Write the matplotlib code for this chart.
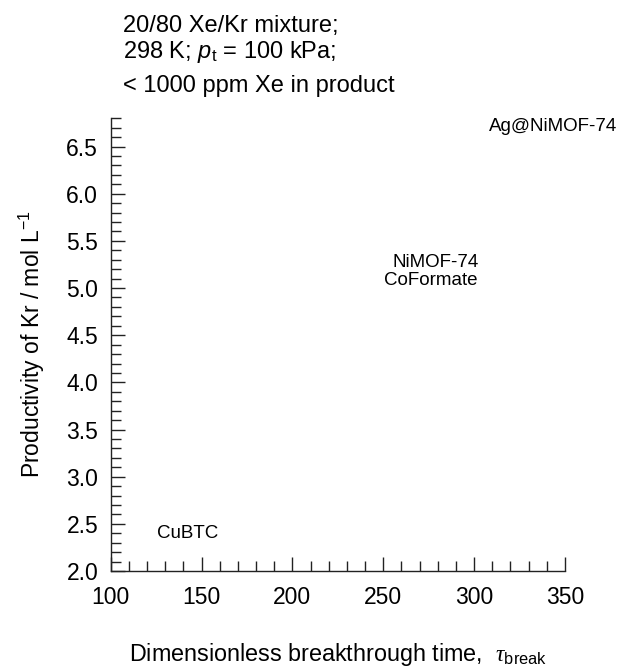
import matplotlib
matplotlib.use("Agg")
import matplotlib.pyplot as plt
from matplotlib.ticker import MultipleLocator

plt.rcParams['font.family'] = ['Liberation Sans', 'DejaVu Sans']
plt.rcParams['mathtext.fontset'] = 'custom'
plt.rcParams['mathtext.rm'] = 'Liberation Sans'
plt.rcParams['mathtext.it'] = 'Liberation Sans:italic'
plt.rcParams['mathtext.sf'] = 'Liberation Serif:italic'

# Data (label anchor positions)
materials = ["CuBTC", "NiMOF-74", "CoFormate", "Ag@NiMOF-74"]
tau_break = [125.2, 302.6, 301.9, 308.0]
productivity = [2.40, 5.27, 5.08, 6.71]
label_align = ["left", "right", "right", "left"]

x_ticks = [100, 150, 200, 250, 300, 350]
y_ticks = [2.0, 2.5, 3.0, 3.5, 4.0, 4.5, 5.0, 5.5, 6.0, 6.5]

fig = plt.figure(figsize=(6.28, 6.68), dpi=100)
ax = fig.add_axes([0.1763, 0.1452, 0.7234, 0.6777])

ax.set_xlim(100, 350)
ax.set_ylim(2.0, 6.8)
ax.set_xticks(x_ticks)
ax.set_yticks(y_ticks)
ax.set_yticklabels([f"{v:.1f}" for v in y_ticks])
ax.xaxis.set_minor_locator(MultipleLocator(10))
ax.yaxis.set_minor_locator(MultipleLocator(0.1))

for s in ["top", "right"]:
    ax.spines[s].set_visible(False)
for s in ["left", "bottom"]:
    ax.spines[s].set_linewidth(1.0)
    ax.spines[s].set_color("#222222")

ax.tick_params(which="major", direction="in", length=10, width=1.0, labelsize=16.5, color="#222222")
ax.tick_params(axis="y", which="major", pad=9)
ax.tick_params(axis="x", which="major", pad=11)
ax.tick_params(which="minor", direction="in", length=7, width=1.0, color="#222222")

for name, x, y, ha in zip(materials, tau_break, productivity, label_align):
    ax.text(x, y, name, ha=ha, va="center", fontsize=13.5, clip_on=False)

ax.set_xlabel(r"Dimensionless breakthrough time,  $\mathsf{\tau}_{\mathrm{break}}$", fontsize=16.8, labelpad=23)
ax.set_ylabel(r"Productivity of Kr / mol L$^{-1}$", fontsize=16.5, labelpad=14)

fig.text(0.196, 0.9521, "20/80 Xe/Kr mixture;", fontsize=17, va="baseline")
fig.text(0.196, 0.9132, r"298 K; $p_{\mathrm{t}}$ = 100 kPa;", fontsize=17, va="baseline")
fig.text(0.196, 0.8627, "< 1000 ppm Xe in product", fontsize=17, va="baseline")

fig.savefig("out.png", dpi=100)
